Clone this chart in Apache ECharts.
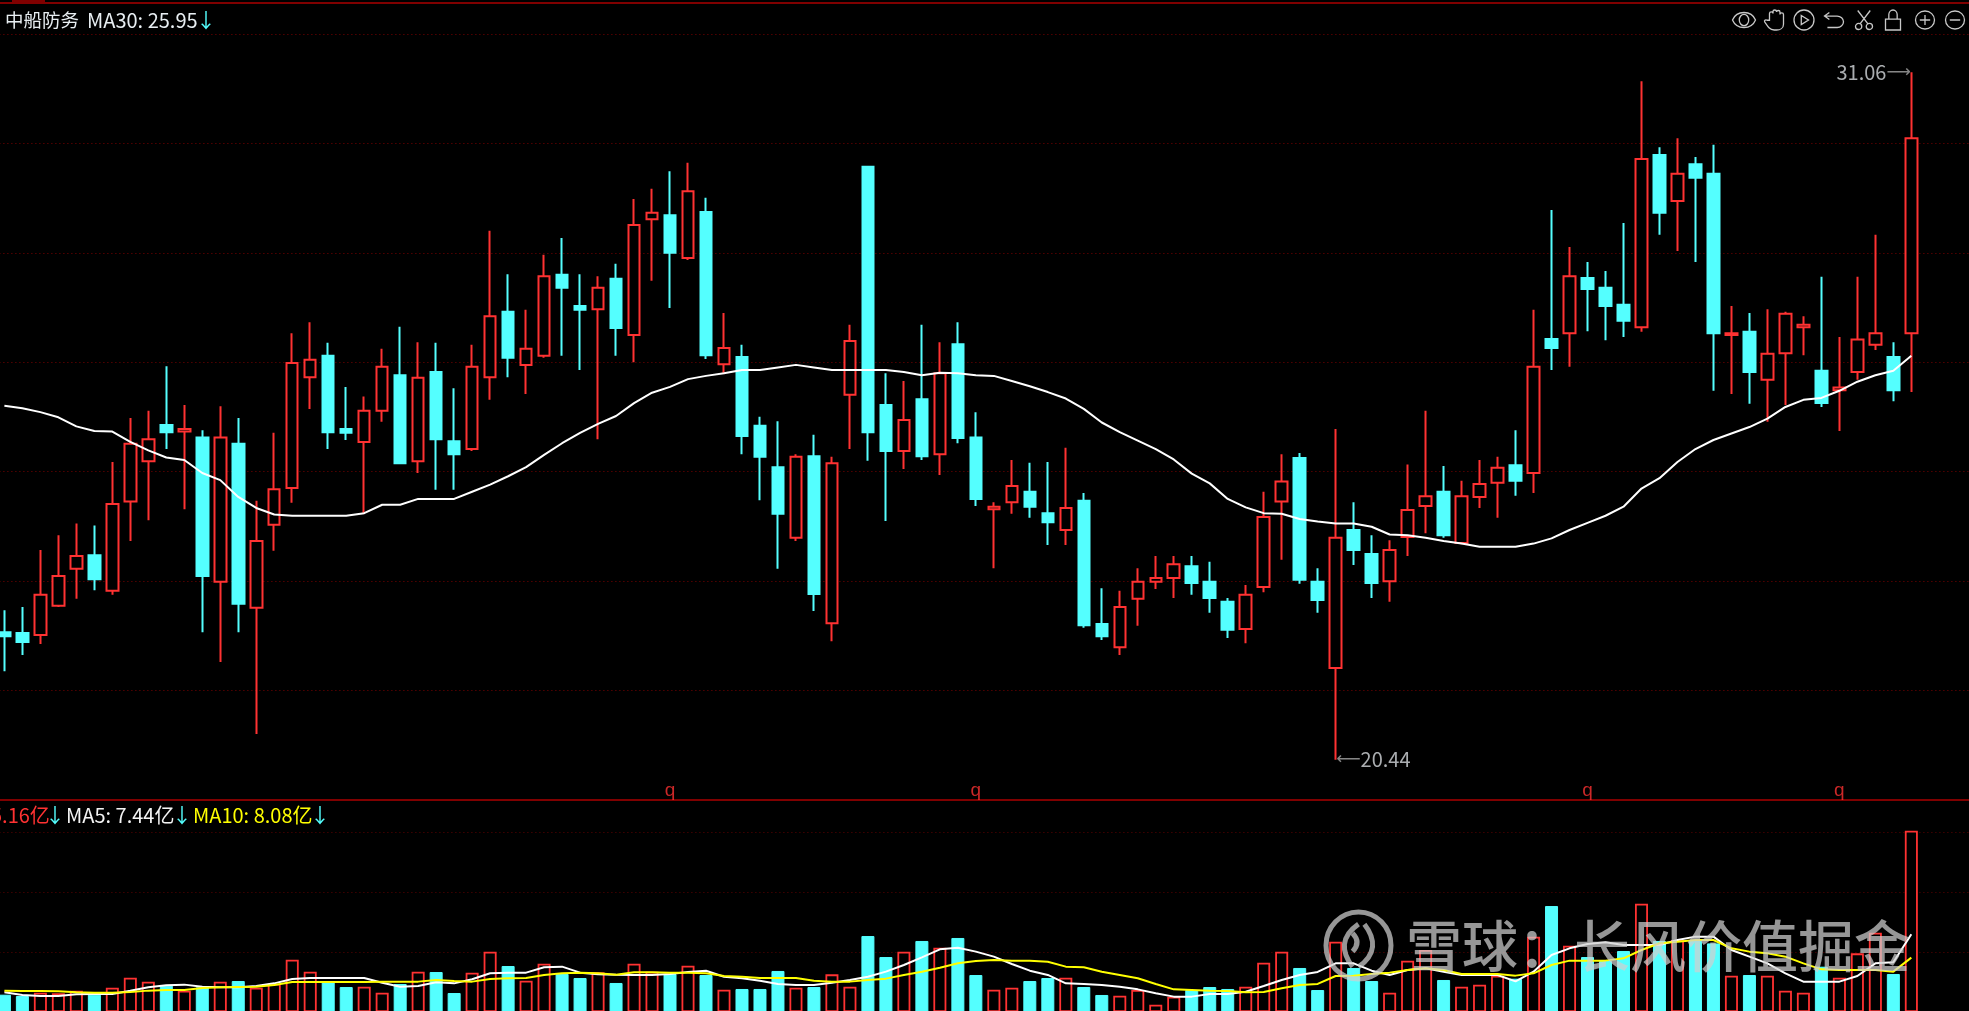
<!DOCTYPE html>
<html><head><meta charset="utf-8">
<style>html,body{margin:0;padding:0;background:#000}#c{width:1969px;height:1011px}</style>
<script src="https://cdn.jsdelivr.net/npm/echarts@6/dist/echarts.min.js"></script>
</head><body><div id="c"></div>
<script>
const rising = "0011101110"+"1010111100"+"1101001101"+"1001011010"+"1000101100"+"1010011001"+"0011110001"+"1100100111"+"0111010100"+"0101001011"+"1011101";
const bodyTop = [22.41,22.40,22.99,23.28,23.59,23.60,24.39,25.32,25.39,25.61,
25.55,25.42,25.42,25.32,23.82,24.62,26.57,26.62,26.68,25.55,
25.83,26.51,26.38,26.34,26.43,25.36,26.51,27.29,27.36,26.79,
27.91,27.93,27.45,27.73,27.87,28.70,28.89,28.85,29.22,28.90,
26.80,26.66,25.60,24.96,25.12,25.13,25.02,26.91,29.60,25.92,
25.69,26.01,26.41,26.86,25.42,24.35,24.67,24.58,24.25,24.33,
24.44,22.54,22.80,23.19,23.25,23.46,23.43,23.19,22.88,22.99,
24.19,24.74,25.10,23.19,23.87,23.99,23.62,23.68,24.30,24.51,
24.58,24.51,24.70,24.95,24.99,26.51,26.94,27.91,27.88,27.73,
27.47,29.72,29.78,29.49,29.64,29.49,27.03,27.05,26.71,27.33,
27.16,26.45,26.19,26.93,27.03,26.66,30.04];
const bodyBottom = [22.35,22.26,22.37,22.82,23.39,23.23,23.05,24.43,25.05,25.50,
25.51,23.28,23.19,22.85,22.79,24.07,24.64,26.35,25.50,25.49,
25.35,25.83,25.02,25.05,25.39,25.16,25.24,26.35,26.65,26.54,
26.68,27.73,27.39,27.40,27.11,27.00,28.79,28.27,28.19,26.69,
26.55,25.44,25.12,24.24,23.87,23.00,22.55,26.08,25.50,25.21,
25.21,25.13,25.16,25.41,24.47,24.31,24.42,24.35,24.11,23.99,
22.52,22.35,22.18,22.93,23.19,23.25,23.17,22.94,22.45,22.46,
23.11,24.43,23.22,22.91,21.86,23.68,23.17,23.20,23.88,24.36,
23.91,23.79,24.50,24.72,24.75,24.87,26.80,27.03,27.71,27.45,
27.22,27.12,28.89,29.07,29.43,27.03,27.00,26.43,26.31,26.72,
27.12,25.95,26.15,26.43,26.85,26.15,27.03];
const highs = [22.75,22.80,23.68,23.91,24.09,24.06,25.04,25.72,25.83,26.52,
25.92,25.53,25.90,25.72,24.44,25.49,27.03,27.20,26.88,26.20,
26.05,26.79,27.13,26.89,26.88,26.18,26.85,28.61,27.94,27.39,
28.24,28.50,27.94,27.91,28.10,29.10,29.26,29.53,29.66,29.12,
27.34,26.85,25.74,25.67,25.16,25.46,25.12,27.16,29.60,26.41,
26.29,27.16,26.89,27.20,25.81,24.42,25.07,25.03,25.04,25.26,
24.56,23.09,23.05,23.40,23.59,23.59,23.59,23.50,22.94,23.14,
24.58,25.16,25.18,23.40,25.55,24.42,23.91,23.83,25.00,25.83,
24.98,24.75,25.07,25.12,25.53,27.39,28.93,28.36,28.13,27.99,
28.73,30.92,29.90,30.04,29.75,29.94,27.45,27.34,27.40,27.36,
27.29,27.90,26.97,27.90,28.55,26.89,31.06];
const lows = [21.81,22.06,22.23,22.80,22.93,23.06,22.99,23.82,24.14,25.24,
24.31,22.41,21.95,22.41,20.84,23.67,24.41,25.86,25.24,25.38,
24.25,25.66,25.01,24.87,24.61,24.61,25.21,26.00,26.35,26.09,
26.65,26.68,26.46,25.39,26.68,26.58,27.84,27.42,28.16,26.63,
26.41,25.16,24.45,23.39,23.82,22.74,22.27,25.24,25.06,24.13,
24.93,25.07,24.84,25.33,24.36,23.40,24.24,24.18,23.76,23.76,
22.48,22.29,22.06,22.51,23.08,22.94,22.99,22.71,22.32,22.24,
23.03,23.53,23.16,22.71,20.44,23.45,22.94,22.88,23.59,23.94,
23.87,23.77,24.33,24.18,24.52,24.56,26.46,26.51,27.06,26.92,
26.97,27.05,28.55,28.30,28.13,26.14,26.09,25.94,25.66,25.92,
26.69,25.89,25.52,26.31,26.77,25.98,26.12];
const ma30 = [25.91,25.87,25.81,25.73,25.59,25.52,25.51,25.35,25.22,25.11,
25.07,24.87,24.76,24.50,24.33,24.23,24.21,24.21,24.21,24.21,
24.25,24.38,24.38,24.47,24.47,24.47,24.58,24.69,24.82,24.96,
25.15,25.33,25.49,25.63,25.75,25.95,26.11,26.20,26.32,26.37,
26.41,26.46,26.46,26.50,26.54,26.50,26.46,26.46,26.46,26.46,
26.43,26.38,26.42,26.41,26.38,26.37,26.29,26.21,26.12,26.02,
25.86,25.65,25.50,25.37,25.24,25.08,24.86,24.71,24.47,24.34,
24.25,24.24,24.16,24.12,24.09,24.09,24.04,23.92,23.91,23.87,
23.82,23.78,23.73,23.73,23.73,23.78,23.86,23.99,24.10,24.21,
24.35,24.63,24.79,25.04,25.24,25.38,25.48,25.58,25.71,25.89,
26.00,26.03,26.14,26.28,26.38,26.45,26.68];
const volume = [2.31,2.13,2.58,2.49,2.84,2.31,3.24,4.58,4.04,3.51,
2.84,3.29,4.04,4.13,3.24,3.78,6.98,5.38,4.00,3.33,
3.38,2.58,3.73,5.38,5.33,2.53,5.24,8.04,6.13,4.18,
6.44,5.07,4.53,5.29,3.87,6.44,5.38,5.07,6.18,4.93,
2.98,3.07,3.07,5.47,3.24,3.33,5.02,3.38,10.13,7.33,
8.04,9.47,8.58,9.87,4.93,2.98,3.24,4.13,4.53,4.58,
3.33,2.27,2.18,2.93,0.98,2.04,2.93,3.33,3.07,3.38,
6.58,8.04,5.87,2.93,9.38,5.87,4.13,2.58,6.84,8.27,
4.27,3.38,3.64,4.84,4.44,10.04,14.13,8.84,7.33,6.80,
8.13,14.44,9.47,9.60,9.47,9.15,4.84,4.93,4.84,2.84,
2.58,6.04,4.58,7.82,10.58,5.07,24.18];
const volMa5 = [2.63,2.27,2.13,2.13,2.36,2.40,2.40,2.84,3.29,3.56,
3.65,3.38,3.29,3.29,3.47,3.82,4.40,4.53,4.53,4.53,
4.53,3.91,3.38,3.47,3.96,3.82,4.36,5.16,5.25,5.25,
5.96,6.05,5.25,5.03,4.98,4.94,4.94,5.07,5.34,5.51,
4.71,4.49,4.18,3.74,3.60,3.60,3.91,4.27,4.71,5.38,
6.27,7.29,8.36,8.58,8.05,7.38,6.40,5.51,4.94,3.82,
3.74,3.60,3.38,3.02,2.49,2.05,2.05,2.40,2.40,2.71,
3.47,4.27,4.94,5.34,6.49,6.49,5.51,4.94,5.60,5.83,
5.38,4.94,4.94,4.94,4.09,5.38,7.60,8.49,9.07,9.29,
8.94,8.94,8.94,9.60,10.05,10.05,8.27,7.38,6.49,5.16,
4.05,4.05,4.05,4.80,6.49,6.63,10.36];
const volMa10 = [2.85,2.80,2.80,2.76,2.63,2.58,2.58,2.67,2.85,2.94,
2.94,3.20,3.29,3.34,3.38,3.60,4.00,4.00,4.00,4.00,
4.00,4.05,4.05,4.05,4.27,4.14,4.05,4.40,4.49,4.53,
4.94,5.16,5.25,5.16,4.98,5.29,5.29,5.25,5.25,5.16,
4.80,4.71,4.53,4.53,4.53,4.18,4.05,4.05,4.27,4.45,
4.94,5.38,5.91,6.49,6.80,6.94,6.85,6.85,6.71,6.05,
5.96,5.38,4.94,4.49,3.74,3.02,2.94,2.85,2.80,2.63,
2.67,3.16,3.60,3.74,4.80,4.85,5.07,5.25,5.60,5.83,
5.60,5.07,5.07,5.07,4.85,5.16,6.27,6.85,6.85,6.85,
7.16,8.27,9.16,9.38,9.60,9.60,8.49,8.05,7.83,7.38,
6.49,5.69,5.60,5.60,5.60,5.38,7.25];
const qMarkers = [37,54,88,102];
const stockName = "中船防务";
const extremes = [{i:106,v:31.06,side:'left'},{i:74,v:20.44,side:'right'}];

const RED='#ff3232', CYAN='#54ffff', GRID='#7d0000', DIV='#800000';
const blanks = 3;
const n = bodyTop.length + blanks;
const cats = Array.from({length:n},(_,i)=>String(i));
const candles = bodyTop.map((t,i)=>{
  const up = rising[i]==='1';
  return [up?bodyBottom[i]:t, up?t:bodyBottom[i], lows[i], highs[i]];
});
const volData = volume.map((v,i)=>({value:v,itemStyle: rising[i]==='1'
  ? {color:'#000',borderColor:RED,borderWidth:1.8}
  : {color:CYAN,borderColor:CYAN,borderWidth:1}}));

const CJK = '"Noto Sans CJK SC","Noto Sans",sans-serif';
const txt=(x,y,text,fill,size)=>({type:'text',x,y,z:50,style:{text,fill,font:`${size||20}px ${CJK}`,textVerticalAlign:'middle'}});
const circ='M12 1a11 11 0 1 0 0.01 0Z';
const WM='rgba(208,208,208,0.72)';
const icons=[
  [1744,23,15,'M1 12C5 4 19 4 23 12C19 20 5 20 1 12Z M12 7.5a4.5 4.5 0 1 0 0.01 0Z'],
  [1774,19,20,'M6 13V6a1.4 1.4 0 0 1 3 0V4a1.4 1.4 0 0 1 3 0V4.5a1.4 1.4 0 0 1 3 0V7a1.4 1.4 0 0 1 3 0V17c0 4-3 6-6 6h-2c-3 0-4-2-5-3l-3-5c-1-2 1-3 2-2z'],
  [1804,20,20,circ+' M9 7L17 12L9 17Z'],
  [1834,19,15,'M8 3L3 7L8 11 M3 7H16a5.5 5.5 0 0 1 0 13H6'],
  [1864,17,19,'M5 1L16 16 M19 1L8 16 M6 16a3.5 3.5 0 1 0 0.01 0Z M18 16a3.5 3.5 0 1 0 0.01 0Z'],
  [1893,15,20,'M3 11H21V23H3Z M7 11V6a5 5 0 0 1 10 0V11'],
  [1925,19,18,circ+' M12 6V18 M6 12H18'],
  [1955,19,18,circ+' M6 12H18']
];
const logoPath='M12 1a11 11 0 1 0 0.01 0Z M12 5C6 9 6 14 10 19 M12 19C18 15 18 10 14 5 M10 8C12 10 12 12 10 14';

const graphic=[
  {type:'rect',z:50,shape:{x:0,y:2,width:1969,height:2},style:{fill:DIV}},
  {type:'rect',z:50,shape:{x:12,y:0,width:33,height:3},style:{fill:DIV}},
  txt(5,20,stockName,'#e8eef2',18.5),
  txt(87,20,'MA30: 25.95','#e8eef2'),
  txt(196,20,'↓',CYAN),
  txt(-9,815,'5.16亿',RED),
  txt(45,815,'↓',CYAN),
  txt(66,815,'MA5: 7.44亿','#f4f4f4'),
  txt(172,815,'↓',CYAN),
  txt(193,815,'MA10: 8.08亿','#ffff00'),
  txt(310,815,'↓',CYAN),
  {type:'text',z:60,x:1406,y:946,style:{text:'雪球：长风价值掘金',fill:WM,font:`500 56px ${CJK}`,textVerticalAlign:'middle'}},
];

const chart=echarts.init(document.getElementById('c'),null,{renderer:'canvas'});
chart.setOption({
  animation:false,
  backgroundColor:'#000',
  graphic,
  grid:[
    {left:-4.6,top:34,width:1978.9,height:766,outerBoundsMode:'none'},
    {left:-4.6,top:800,width:1978.9,height:212,outerBoundsMode:'none'}
  ],
  xAxis:[
    {type:'category',gridIndex:0,data:cats,boundaryGap:true,axisLine:{show:true,onZero:false,lineStyle:{color:DIV,width:2}},axisTick:{show:false},axisLabel:{show:false},splitLine:{show:false}},
    {type:'category',gridIndex:1,data:cats,boundaryGap:true,axisLine:{show:false},axisTick:{show:false},axisLabel:{show:false},splitLine:{show:false}}
  ],
  yAxis:[
    {type:'value',gridIndex:0,min:19.82,max:31.65,axisLine:{show:false},axisTick:{show:false},axisLabel:{show:false},splitLine:{show:false}},
    {type:'value',gridIndex:0,min:0,max:7,interval:1,position:'right',axisLine:{show:false},axisTick:{show:false},axisLabel:{show:false},splitLine:{show:true,lineStyle:{color:GRID,type:[1,3],width:1}}},
    {type:'value',gridIndex:1,min:0,max:28.27,interval:8,axisLine:{show:false},axisTick:{show:false},axisLabel:{show:false},splitLine:{show:true,lineStyle:{color:'#5f0000',type:[1,3],width:1}}}
  ],
  series:[
    {type:'candlestick',name:'K',xAxisIndex:0,yAxisIndex:0,data:candles,barWidth:12,z:3,
      itemStyle:{color:'#000',color0:CYAN,borderColor:RED,borderColor0:CYAN,borderWidth:2}},
    {type:'line',name:'MA30',xAxisIndex:0,yAxisIndex:0,data:ma30,showSymbol:false,symbol:'none',z:4,lineStyle:{color:'#fff',width:2}},
    {type:'scatter',name:'q',xAxisIndex:0,yAxisIndex:0,symbolSize:1,itemStyle:{color:'transparent'},z:5,
      data:qMarkers.map(i=>[i,19.97]),
      label:{show:true,position:'inside',formatter:'q',color:RED,fontSize:19,fontFamily:'Liberation Sans'}},
    {type:'scatter',name:'extremes',xAxisIndex:0,yAxisIndex:0,symbolSize:1,itemStyle:{color:'transparent'},z:6,
      data:extremes.map(e=>({value:[e.i,e.v],label:{
        position:e.side,distance:0,
        formatter:e.side==='left'?'{t|'+e.v.toFixed(2)+'}{a|⟶}':'{a|⟵}{t|'+e.v.toFixed(2)+'}'}})),
      label:{show:true,rich:{t:{color:'#d4d8dc',fontSize:20,fontFamily:'"Noto Sans CJK SC","Liberation Sans"'},a:{color:'#a8a8a8',fontSize:17,fontFamily:'DejaVu Sans'}}}},
    {type:'bar',name:'VOL',xAxisIndex:1,yAxisIndex:2,data:volData,barWidth:13,z:3},
    {type:'line',name:'MA5',xAxisIndex:1,yAxisIndex:2,data:volMa5,showSymbol:false,symbol:'none',z:4,lineStyle:{color:'#fff',width:2}},
    {type:'line',name:'MA10',xAxisIndex:1,yAxisIndex:2,data:volMa10,showSymbol:false,symbol:'none',z:5,lineStyle:{color:'#ffff00',width:2}},
    {type:'custom',name:'chrome',coordinateSystem:'none',z:60,silent:true,data:[0],
      renderItem:()=>({type:'group',children:icons.map(([cx,w,h,pathData])=>({
        type:'path',shape:{pathData,layout:'cover',x:cx-w/2,y:20-h/2,width:w,height:h},
        style:{fill:'none',stroke:'#c8c8c8',lineWidth:1.3}})).concat([{
        type:'path',shape:{pathData:logoPath,layout:'cover',x:1326,y:912,width:65,height:67},
        style:{fill:'none',stroke:WM,lineWidth:5}}])})}
  ]
});
</script></body></html>
